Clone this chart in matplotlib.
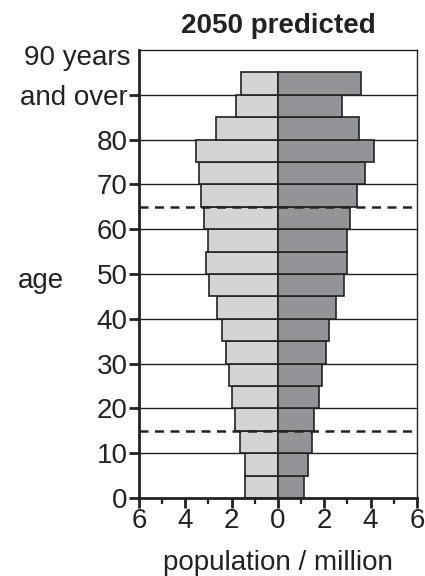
import numpy as np
import matplotlib
matplotlib.use("Agg")
import matplotlib.pyplot as plt
from matplotlib.ticker import MultipleLocator, FuncFormatter

plt.rcParams['font.family'] = ['Liberation Sans', 'DejaVu Sans']

# age groups (lower bound of each 5-year band), 90 = "90 years and over"
edades = np.arange(0, 95, 5)
# population in millions
izquierda = [1.41, 1.41, 1.62, 1.84, 2.00, 2.13, 2.23, 2.41, 2.64, 2.96,
             3.09, 3.03, 3.20, 3.33, 3.42, 3.53, 2.69, 1.82, 1.61]
derecha = [1.12, 1.29, 1.46, 1.55, 1.77, 1.90, 2.06, 2.20, 2.50, 2.85,
           2.98, 2.98, 3.11, 3.42, 3.74, 4.14, 3.49, 2.75, 3.57]
lineas_discontinuas = [15, 65]

fs = 20
fig = plt.figure(figsize=(4.25, 5.76), dpi=100)
ax = fig.add_axes([0.327, 0.1354, 0.654, 0.7778])

ax.barh(edades, [-v for v in izquierda], height=5, align="edge",
        color="#d3d4d6", edgecolor="#222222", linewidth=1.2, zorder=3)
ax.barh(edades, derecha, height=5, align="edge",
        color="#939497", edgecolor="#222222", linewidth=1.2, zorder=3)

# horizontal rules every 10 years
for y in range(10, 100, 10):
    ax.axhline(y, color="#222222", linewidth=1.0, zorder=2)
for y in lineas_discontinuas:
    ax.axhline(y, color="#222222", linewidth=1.8, linestyle=(0, (3.6, 2.6)), zorder=4)

ax.set_xlim(-6, 6)
ax.set_ylim(0, 100)

ax.xaxis.set_major_locator(MultipleLocator(2))
ax.xaxis.set_minor_locator(MultipleLocator(1))
ax.xaxis.set_major_formatter(FuncFormatter(lambda v, p: f"{abs(v):.0f}"))
ax.set_yticks(range(0, 100, 10))
ax.set_yticklabels([str(v) for v in range(0, 90, 10)] + ["and over"])

ax.tick_params(axis="both", which="major", direction="out", length=7, width=2,
               labelsize=fs, color="#222222", labelcolor="#222222", pad=1)
ax.tick_params(axis="x", which="major", pad=0)
ax.tick_params(axis="x", which="minor", direction="out", length=4, width=1.6,
               color="#222222")

for s in ["left", "bottom"]:
    ax.spines[s].set_linewidth(2.0)
for s in ["top", "right"]:
    ax.spines[s].set_linewidth(1.0)
for s in ax.spines.values():
    s.set_color("#222222")
    s.set_zorder(5)

ax.text(-0.029, 0.983, "90 years", transform=ax.transAxes, ha="right",
        va="center", fontsize=fs, color="#222222")

ax.set_xlabel("population / million", fontsize=fs, color="#222222", labelpad=12)
fig.text(0.097, 0.512, "age", ha="center", va="center", fontsize=fs,
         color="#222222")
ax.set_title("2050 predicted", fontsize=20, fontweight="bold", color="#222222",
             pad=12)

fig.savefig("out.png", dpi=100)
